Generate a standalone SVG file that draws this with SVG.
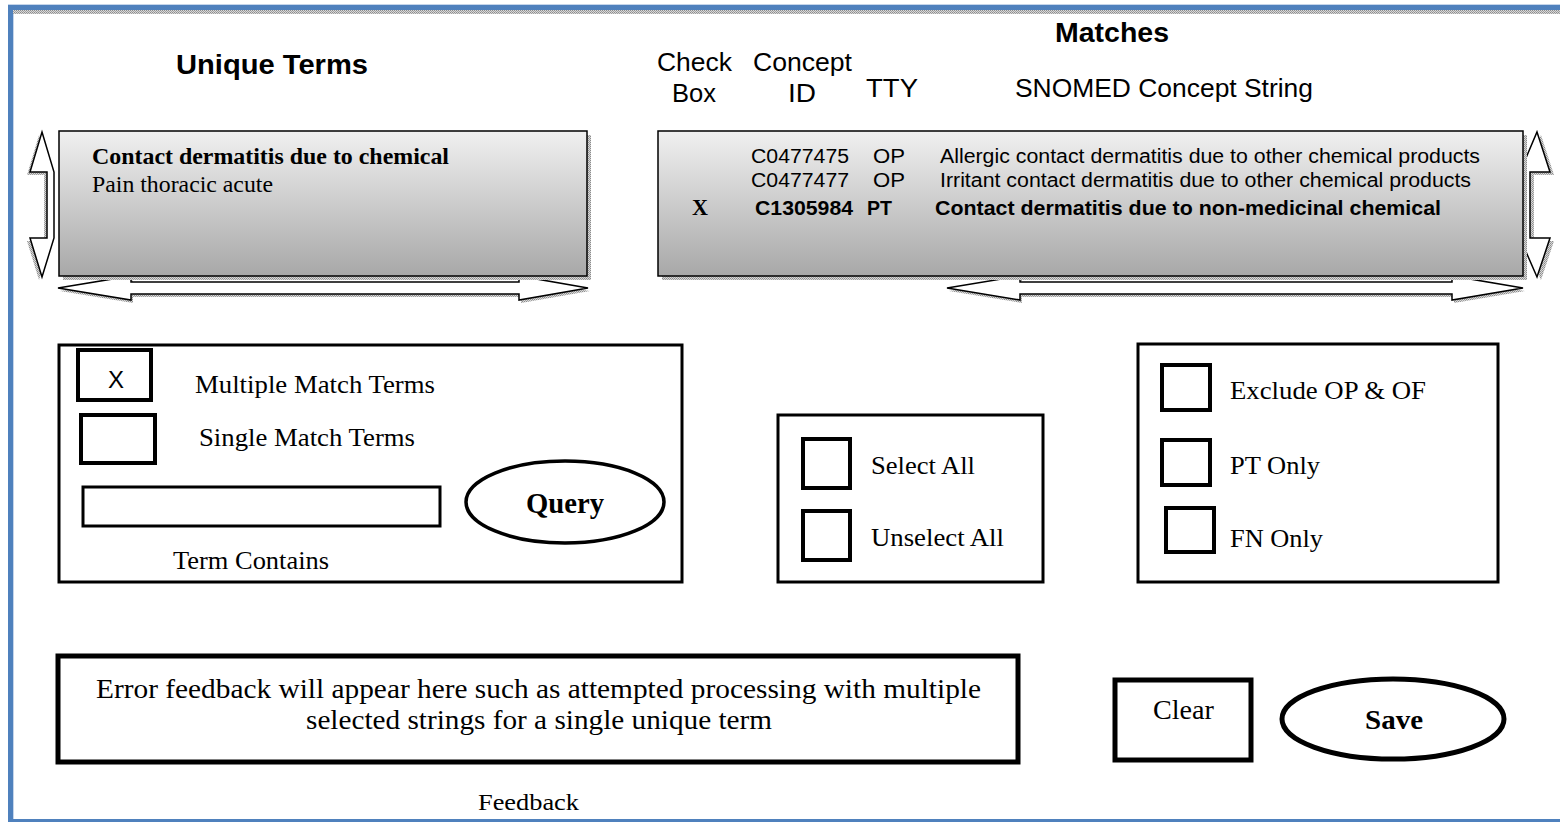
<svg xmlns="http://www.w3.org/2000/svg" xmlns:xlink="http://www.w3.org/1999/xlink" width="1560" height="822" viewBox="0 0 1560 822">
  <style>
    .sans { font-family: "Liberation Sans", Arial, sans-serif; fill: #000; }
    .serif { font-family: "Liberation Serif", "Times New Roman", serif; fill: #000; }
    .b { font-weight: bold; }
    .list { fill: url(#listFill); stroke: #000; stroke-width: 1.5; }
    .arrow { fill: #fff; stroke: #000; stroke-width: 1.5; stroke-linejoin: miter; }
    .shadow { fill: url(#hatch); stroke: none; }
    .panel { fill: #fff; stroke: #000; stroke-width: 3; }
    .check { fill: #fff; stroke: #000; stroke-width: 4; }
    .heavy { fill: #fff; stroke: #000; stroke-width: 5; }
  </style>
  <defs>
    <linearGradient id="listFill" x1="0" y1="0" x2="0" y2="1">
      <stop offset="0" stop-color="#f0f0f0"/>
      <stop offset="1" stop-color="#a8a8a8"/>
    </linearGradient>
    <pattern id="hatch" width="2" height="2" patternUnits="userSpaceOnUse">
      <rect width="2" height="2" fill="#d8d8d8"/>
      <rect width="1" height="1" fill="#8c8c8c"/>
      <rect x="1" y="1" width="1" height="1" fill="#a0a0a0"/>
    </pattern>
    <!-- scroll arrows -->
    <polygon id="vArrowL" points="42,132 54,172 54,238 42,277 30,238 47,238 47,172 30,172"/>
    <polygon id="vArrowR" points="1537,132 1550,172 1530,172 1530,238 1550,238 1537,277 1520,238 1520,172"/>
    <polygon id="hArrowL" points="58,288 131,276 131,282 519,282 519,276 588,288 519,300 519,294 131,294 131,300"/>
    <polygon id="hArrowR" points="947,288 1020,276 1020,282 1452,282 1452,276 1523,288 1452,300 1452,294 1020,294 1020,300"/>
  </defs>

  <rect width="1560" height="822" fill="#fff"/>

  <!-- window frame -->
  <g id="frame">
    <rect x="8" y="4" width="1552" height="1" fill="#c5d5ea"/>
    <rect x="8" y="5" width="1552" height="5" fill="#4f81bd"/>
    <rect x="13" y="10" width="1547" height="4" fill="url(#hatch)"/>
    <rect x="8" y="5" width="5" height="817" fill="#4f81bd"/>
    <rect x="13" y="14" width="1" height="805" fill="#c5d5ea"/>
    <rect x="8" y="819" width="1552" height="3" fill="#4f81bd"/>
  </g>

  <!-- unique terms list -->
  <g id="unique-terms">
    <text class="sans b" x="176" y="74" font-size="28" textLength="192" lengthAdjust="spacingAndGlyphs">Unique Terms</text>
    <use href="#vArrowL" class="shadow" transform="translate(-3,3)"/>
    <use href="#hArrowL" class="shadow" transform="translate(2,3)"/>
    <use href="#vArrowL" class="arrow"/>
    <use href="#hArrowL" class="arrow"/>
    <rect x="63" y="135" width="528" height="145" class="shadow"/>
    <rect x="59" y="131" width="528" height="145" class="list"/>
    <text class="serif b" x="92" y="164" font-size="23" textLength="357" lengthAdjust="spacingAndGlyphs">Contact dermatitis due to chemical</text>
    <text class="serif" x="92" y="192" font-size="23" textLength="181" lengthAdjust="spacingAndGlyphs">Pain thoracic acute</text>
  </g>

  <!-- matches list -->
  <g id="matches">
    <text class="sans b" x="1055" y="42" font-size="27" textLength="114" lengthAdjust="spacingAndGlyphs">Matches</text>
    <text class="sans" x="657" y="71" font-size="26" textLength="75" lengthAdjust="spacingAndGlyphs">Check</text>
    <text class="sans" x="672" y="102" font-size="26" textLength="44" lengthAdjust="spacingAndGlyphs">Box</text>
    <text class="sans" x="753" y="71" font-size="26" textLength="99" lengthAdjust="spacingAndGlyphs">Concept</text>
    <text class="sans" x="788" y="102" font-size="26" textLength="28" lengthAdjust="spacingAndGlyphs">ID</text>
    <text class="sans" x="866" y="97" font-size="26" textLength="52" lengthAdjust="spacingAndGlyphs">TTY</text>
    <text class="sans" x="1015" y="97" font-size="26" textLength="298" lengthAdjust="spacingAndGlyphs">SNOMED Concept String</text>
    <use href="#vArrowR" class="shadow" transform="translate(4,3)"/>
    <use href="#hArrowR" class="shadow" transform="translate(2,3)"/>
    <use href="#vArrowR" class="arrow"/>
    <use href="#hArrowR" class="arrow"/>
    <rect x="662" y="135" width="865" height="145" class="shadow"/>
    <rect x="658" y="131" width="865" height="145" class="list"/>
    <text class="sans" x="751" y="163" font-size="20" textLength="98" lengthAdjust="spacingAndGlyphs">C0477475</text>
    <text class="sans" x="873" y="163" font-size="20" textLength="32" lengthAdjust="spacingAndGlyphs">OP</text>
    <text class="sans" x="940" y="163" font-size="20" textLength="540" lengthAdjust="spacingAndGlyphs">Allergic contact dermatitis due to other chemical products</text>
    <text class="sans" x="751" y="187" font-size="20" textLength="98" lengthAdjust="spacingAndGlyphs">C0477477</text>
    <text class="sans" x="873" y="187" font-size="20" textLength="32" lengthAdjust="spacingAndGlyphs">OP</text>
    <text class="sans" x="940" y="187" font-size="20" textLength="531" lengthAdjust="spacingAndGlyphs">Irritant contact dermatitis due to other chemical products</text>
    <text class="serif b" x="692" y="215" font-size="23" textLength="16" lengthAdjust="spacingAndGlyphs">X</text>
    <text class="sans b" x="755" y="215" font-size="20" textLength="98" lengthAdjust="spacingAndGlyphs">C1305984</text>
    <text class="sans b" x="867" y="215" font-size="20" textLength="25" lengthAdjust="spacingAndGlyphs">PT</text>
    <text class="sans b" x="935" y="215" font-size="20" textLength="506" lengthAdjust="spacingAndGlyphs">Contact dermatitis due to non-medicinal chemical</text>
  </g>

  <!-- query panel -->
  <g id="query-panel">
    <rect x="59" y="345" width="623" height="237" class="panel"/>
    <rect x="78" y="350" width="73" height="50" class="check"/>
    <text class="sans" x="116" y="388" font-size="24" text-anchor="middle">X</text>
    <text class="serif" x="195" y="393" font-size="26" textLength="240" lengthAdjust="spacingAndGlyphs">Multiple Match Terms</text>
    <rect x="81" y="415" width="74" height="48" class="check"/>
    <text class="serif" x="199" y="446" font-size="26" textLength="216" lengthAdjust="spacingAndGlyphs">Single Match Terms</text>
    <rect x="83" y="487" width="357" height="39" class="panel"/>
    <text class="serif" x="173" y="569" font-size="26" textLength="156" lengthAdjust="spacingAndGlyphs">Term Contains</text>
  </g>
  <g id="query-button">
    <ellipse cx="565" cy="502" rx="99" ry="41" fill="#fff" stroke="#000" stroke-width="3.5"/>
    <text class="serif b" x="565" y="513" font-size="29" text-anchor="middle" textLength="78" lengthAdjust="spacingAndGlyphs">Query</text>
  </g>

  <!-- selection panel -->
  <g id="select-panel">
    <rect x="778" y="415" width="265" height="167" class="panel"/>
    <rect x="803" y="439" width="47" height="49" class="check"/>
    <text class="serif" x="871" y="474" font-size="26" textLength="104" lengthAdjust="spacingAndGlyphs">Select All</text>
    <rect x="803" y="511" width="47" height="49" class="check"/>
    <text class="serif" x="871" y="546" font-size="26" textLength="133" lengthAdjust="spacingAndGlyphs">Unselect All</text>
  </g>

  <!-- filter panel -->
  <g id="filter-panel">
    <rect x="1138" y="344" width="360" height="238" class="panel"/>
    <rect x="1162" y="365" width="48" height="45" class="check"/>
    <text class="serif" x="1230" y="399" font-size="26" textLength="196" lengthAdjust="spacingAndGlyphs">Exclude OP &amp; OF</text>
    <rect x="1162" y="440" width="48" height="45" class="check"/>
    <text class="serif" x="1230" y="474" font-size="26" textLength="90" lengthAdjust="spacingAndGlyphs">PT Only</text>
    <rect x="1166" y="508" width="48" height="44" class="check"/>
    <text class="serif" x="1230" y="547" font-size="26" textLength="93" lengthAdjust="spacingAndGlyphs">FN Only</text>
  </g>

  <!-- feedback -->
  <g id="feedback">
    <rect x="58" y="656" width="960" height="106" class="heavy"/>
    <text class="serif" x="96" y="698" font-size="28" textLength="885" lengthAdjust="spacingAndGlyphs">Error feedback will appear here such as attempted processing with multiple</text>
    <text class="serif" x="306" y="729" font-size="28" textLength="466" lengthAdjust="spacingAndGlyphs">selected strings for a single unique term</text>
    <text class="serif" x="478" y="810" font-size="24" textLength="101" lengthAdjust="spacingAndGlyphs">Feedback</text>
  </g>

  <g id="clear-button">
    <rect x="1115" y="680" width="136" height="80" class="heavy"/>
    <text class="serif" x="1153" y="719" font-size="27" textLength="61" lengthAdjust="spacingAndGlyphs">Clear</text>
  </g>

  <g id="save-button">
    <ellipse cx="1393" cy="719" rx="111" ry="40" class="heavy"/>
    <text class="serif b" x="1394" y="729" font-size="28" text-anchor="middle" textLength="58" lengthAdjust="spacingAndGlyphs">Save</text>
  </g>

  <g id="connectors"/>
</svg>
